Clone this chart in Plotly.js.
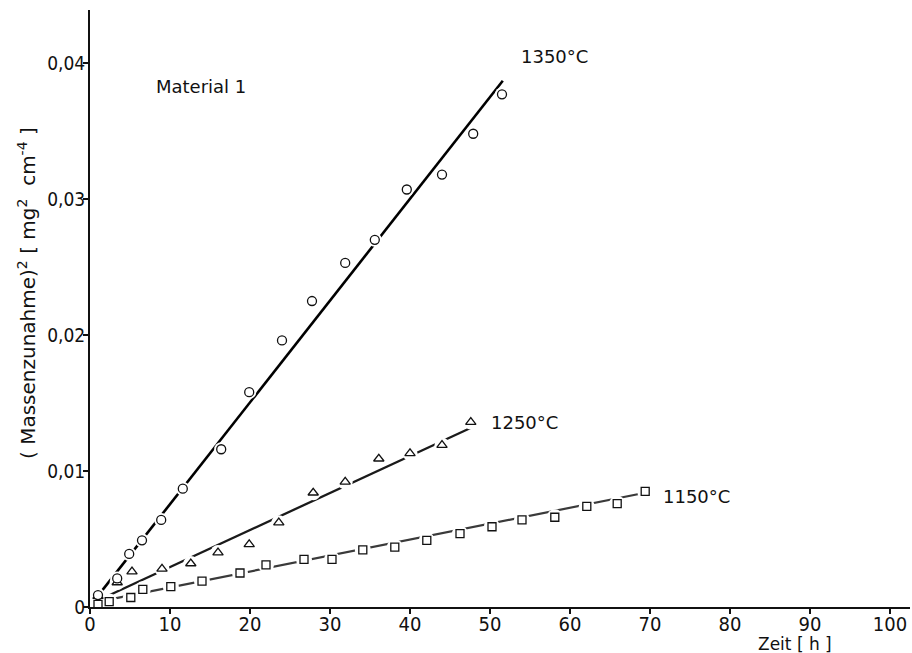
<!DOCTYPE html>
<html>
<head>
<meta charset="utf-8">
<script src="https://cdn.plot.ly/plotly-3.0.1.min.js"></script>
<style>html,body{margin:0;padding:0;background:#fff;}#chart{width:912px;height:653px;}</style>
</head>
<body>
<div id="chart"></div>
<script>
// 1350 °C (circles)
const t1350 = [1.0, 3.4, 4.9, 6.5, 8.9, 11.6, 16.4, 19.9, 24.0, 27.75, 31.9, 35.6, 39.6, 44.0, 47.9, 51.5];
const m1350 = [0.00088, 0.0021, 0.0039, 0.0049, 0.0064, 0.0087, 0.0116, 0.0158, 0.0196, 0.0225, 0.0253, 0.0270, 0.0307, 0.0318, 0.0348, 0.0377];
const fit1350X = [0.3, 51.6];
const fit1350Y = [0.0003, 0.0387];
// 1250 °C (triangles)
const t1250 = [1.0, 3.4, 5.25, 9.0, 12.6, 16.0, 19.9, 23.6, 27.9, 31.9, 36.1, 40.0, 44.0, 47.6];
const m1250 = [0.0008, 0.0018, 0.0026, 0.0028, 0.0032, 0.0040, 0.0046, 0.0062, 0.0084, 0.0092, 0.0109, 0.0113, 0.0119, 0.0136];
const fit1250X = [0.3, 47.7];
const fit1250Y = [0.0003, 0.0132];
// 1150 °C (squares)
const t1150 = [1.0, 2.4, 5.1, 6.6, 10.1, 14.0, 18.75, 22.0, 26.75, 30.25, 34.1, 38.1, 42.1, 46.25, 50.25, 54.0, 58.1, 62.1, 65.9, 69.4];
const m1150 = [0.0002, 0.0004, 0.0007, 0.0013, 0.0015, 0.0019, 0.0025, 0.0031, 0.0035, 0.0035, 0.0042, 0.0044, 0.0049, 0.0054, 0.0059, 0.0064, 0.0066, 0.0074, 0.0076, 0.0085];
const fit1150X = [0.3, 69.4];
const fit1150Y = [0.0003, 0.0084];

const xTicks = [0, 10, 20, 30, 40, 50, 60, 70, 80, 90, 100];
const yTicks = [0, 0.01, 0.02, 0.03, 0.04];
const yTickText = ['0', '0,01', '0,02', '0,03', '0,04'];
const seriesLabels = ['1350°C', '1250°C', '1150°C'];

const F = 'DejaVu Sans, Liberation Sans, sans-serif';
const FT = 'Liberation Sans Narrow, DejaVu Sans Condensed, Liberation Sans, sans-serif';

function lineTrace(x, y, w, col) {
  return {x: x, y: y, mode: 'lines', type: 'scatter', hoverinfo: 'skip',
    line: {color: col, width: w}, showlegend: false};
}
function haloTrace(x, y, sym, size) {
  return {x: x, y: y, mode: 'markers', type: 'scatter', showlegend: false, hoverinfo: 'skip',
    marker: {symbol: sym, size: size, color: '#fff', line: {width: 0}}};
}
function markTrace(x, y, sym, size) {
  return {x: x, y: y, mode: 'markers', type: 'scatter', showlegend: false,
    marker: {symbol: sym, size: size, color: '#fff', line: {color: '#111', width: 1.3}}};
}

const data = [
  lineTrace(fit1150X, fit1150Y, 2.2, '#3a3a3a'),
  lineTrace(fit1250X, fit1250Y, 2.3, '#1a1a1a'),
  lineTrace(fit1350X, fit1350Y, 2.6, '#000'),
  haloTrace(t1150, m1150, 'circle', 16),
  haloTrace(t1250, m1250, 'circle', 15),
  haloTrace(t1350, m1350, 'circle', 14),
  markTrace(t1150, m1150, 'square', 8),
  markTrace(t1250, m1250, 'triangle-up', 9),
  markTrace(t1350, m1350, 'circle', 9)
];

const layout = {
  width: 912, height: 653,
  margin: {l: 90, r: 2, t: 10, b: 46},
  paper_bgcolor: '#fff', plot_bgcolor: '#fff',
  showlegend: false,
  font: {family: F, size: 16, color: '#111'},
  xaxis: {range: [0, 102.5], showgrid: false, zeroline: false, showline: true,
    linecolor: '#111', linewidth: 2, ticks: 'outside', ticklen: 5, tickwidth: 1.5, tickcolor: '#111',
    ticklabelstandoff: -7,
    tickvals: xTicks, ticktext: xTicks.map(String), tickfont: {family: FT, size: 20}},
  yaxis: {range: [0, 0.0439], showgrid: false, zeroline: false, showline: true,
    linecolor: '#111', linewidth: 2, ticks: 'outside', ticklen: 5, tickwidth: 1.5, tickcolor: '#111',
    ticklabelstandoff: -6,
    tickvals: yTicks, ticktext: yTickText, tickfont: {family: FT, size: 19}},
  annotations: [
    {x: 154, y: 87, xref: 'paper', yref: 'paper', text: 'Material 1', showarrow: false, font: {family: F, size: 18}, xanchor: 'left', yanchor: 'middle'},
    {x: 53.6, y: 0.0405, xref: 'x', yref: 'y', text: seriesLabels[0], showarrow: false, font: {family: F, size: 18}, xanchor: 'left', yanchor: 'middle'},
    {x: 49.9, y: 0.0136, xref: 'x', yref: 'y', text: seriesLabels[1], showarrow: false, font: {family: F, size: 18}, xanchor: 'left', yanchor: 'middle'},
    {x: 71.4, y: 0.0081, xref: 'x', yref: 'y', text: seriesLabels[2], showarrow: false, font: {family: F, size: 18}, xanchor: 'left', yanchor: 'middle'},
    {x: 795, y: 644, xref: 'paper', yref: 'paper', text: 'Zeit [ h ]', showarrow: false, font: {family: F, size: 17}, xanchor: 'center', yanchor: 'middle'},
    {x: 27, y: 293, xref: 'paper', yref: 'paper', text: '( Massenzunahme)<sup>2</sup> [ mg<sup>2</sup>  cm<sup>-4</sup> ]', textangle: -90, showarrow: false, font: {family: F, size: 20}, xanchor: 'center', yanchor: 'middle'}
  ]
};
// convert pixel-positioned annotations to paper coords
const plotW = 912 - 90 - 2, plotH = 653 - 10 - 46;
layout.annotations.forEach(a => {
  if (a.xref === 'paper') {
    a.x = (a.x - 90) / plotW;
    a.y = (653 - 46 - a.y) / plotH;
  }
});

Plotly.newPlot('chart', data, layout, {displayModeBar: false, staticPlot: true});
</script>
</body>
</html>
